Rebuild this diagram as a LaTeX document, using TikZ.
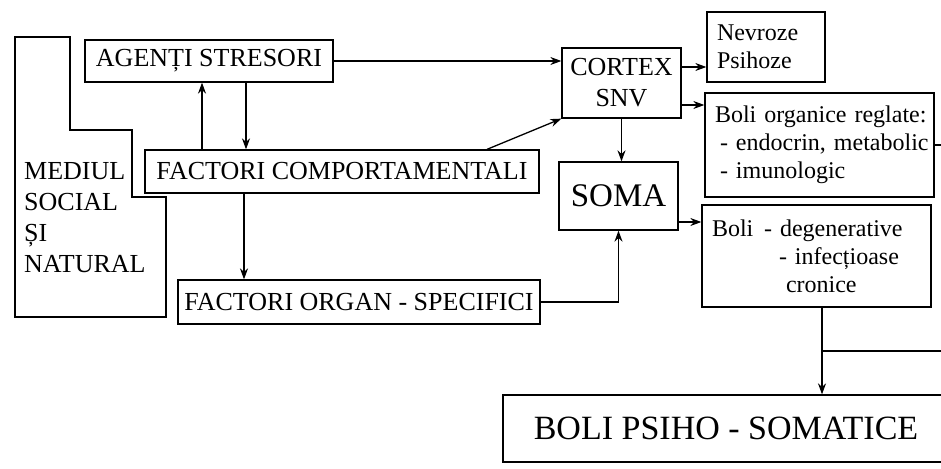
\documentclass[tikz,border=0pt]{standalone}
\usepackage{fontspec}
\setmainfont{Liberation Serif}
\usetikzlibrary{arrows.meta}
\tikzset{
  % plain framed box, text centred
  box/.style = {draw, rectangle, line width=1.3pt, inner sep=0pt,
    font=\fontsize{26}{31}\selectfont},
  % framed box with a left aligned list
  listbox/.style = {box, align=left, inner xsep=10pt,
    font=\fontsize{24}{28}\selectfont},
  % connectors
  wire/.style = {line width=1.3pt},
  arr/.style = {wire, -{Stealth[length=11pt,width=8pt]}},
}

\begin{document}
\begin{tikzpicture}[x=1pt, y=-1pt]
  \useasboundingbox (0,0) rectangle (941,468);
  \clip (0,0) rectangle (941,468);

  % environment frame
  \draw[wire] (15,37) -- (70,37) -- (70,130) -- (132,130) -- (132,197)
    -- (166,197) -- (166,317) -- (15,317) -- cycle;
  \node[anchor=north west, inner sep=0pt, align=left,
    font=\fontsize{26}{31}\selectfont] (mediul) at (24,162)
    {MEDIUL\\SOCIAL\\ȘI\\NATURAL};

  \node[box, minimum width=248pt, minimum height=42pt] (agenti) at (209,61) {AGENȚI STRESORI};
  \node[box, minimum width=394pt, minimum height=43pt] (comport) at (342,171.5) {FACTORI COMPORTAMENTALI};
  \node[box, minimum width=362pt, minimum height=44pt] (organ) at (359,302) {FACTORI ORGAN - SPECIFICI};
  \node[box, minimum width=119pt, minimum height=70pt, align=center] (cortex) at (621.5,83) {CORTEX\\SNV};
  \node[box, minimum width=119pt, minimum height=68pt, font=\fontsize{33}{36}\selectfont] (soma) at (618.5,196) {SOMA};

  \node[listbox, text width=98pt, minimum height=70pt] (nevroze) at (766,47) {Nevroze\\Psihoze};
  \node[listbox, text width=209pt, minimum height=104pt] (organice) at (819.5,145)
    {\mbox{Boli organice reglate:}\\\mbox{\hspace*{5pt}- endocrin, metabolic}\\\mbox{\hspace*{5pt}- imunologic}};
  \node[listbox, text width=209pt, minimum height=102pt] (degen) at (816.5,256)
    {\makebox[52pt][l]{Boli}- degenerative\\\hspace*{67pt}- infecțioase\\\hspace*{74pt}cronice};
  \node[box, minimum width=446pt, minimum height=67pt, font=\fontsize{34}{38}\selectfont] (psiho) at (726,428.5) {BOLI PSIHO - SOMATICE};

  \coordinate (split) at (822,351);
  \coordinate (rim) at (945,143);

  \draw[arr] (agenti.east) -- (agenti.east -| cortex.west);
  \draw[arr] (202,0 |- comport.north) -- (202,0 |- agenti.south);
  \draw[arr] (246,0 |- agenti.south) -- (246,0 |- comport.north);
  \draw[arr] (244,0 |- comport.south) -- (244,0 |- organ.north);
  \draw[arr] (487,0 |- comport.north) -- (cortex.south west);
  \draw[arr] (cortex.south) -- (cortex.south |- soma.north);
  \draw[arr] (organ.east) -| (soma.south);
  \draw[arr] (cortex.east |- 0,67) -- (nevroze.west |- 0,67);
  \draw[arr] (cortex.east |- 0,105) -- (organice.west |- 0,105);
  \draw[arr] (soma.east |- 0,222) -- (degen.west |- 0,222);
  \draw[wire] (organice.east) -- (organice.east -| rim);
  \draw[arr] (split |- degen.south) -- (split |- psiho.north);
  \draw[wire] (split) -- (split -| rim);
\end{tikzpicture}
\end{document}
